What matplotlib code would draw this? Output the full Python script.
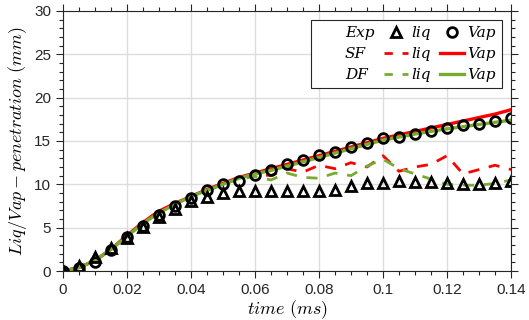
import numpy as np
import matplotlib
matplotlib.use('Agg')
import matplotlib.pyplot as plt
from matplotlib.lines import Line2D
from matplotlib.ticker import MultipleLocator

plt.rcParams['mathtext.fontset'] = 'cm'
plt.rcParams['font.family'] = 'Liberation Sans'

# time (ms)
t = [0.000, 0.005, 0.010, 0.015, 0.020, 0.025, 0.030, 0.035, 0.040, 0.045,
     0.050, 0.055, 0.060, 0.065, 0.070, 0.075, 0.080, 0.085, 0.090, 0.095,
     0.100, 0.105, 0.110, 0.115, 0.120, 0.125, 0.130, 0.135, 0.140]

# experiment
exp_liq = [0.0, 0.6, 1.6, 2.7, 3.85, 5.1, 6.2, 7.2, 8.1, 8.5,
           9.0, 9.2, 9.2, 9.2, 9.2, 9.2, 9.25, 9.35, 9.8, 10.1,
           10.2, 10.4, 10.3, 10.3, 10.1, 10.0, 10.0, 10.2, 10.4]
exp_vap = [0.0, 0.3, 1.0, 2.4, 3.9, 5.2, 6.5, 7.5, 8.4, 9.3,
           10.0, 10.4, 11.1, 11.6, 12.3, 12.8, 13.4, 13.7, 14.3, 14.8,
           15.3, 15.5, 15.85, 16.2, 16.5, 16.8, 17.0, 17.3, 17.7]

# SF simulation
sf_liq = [0.0, 0.4, 1.2, 2.5, 4.1, 5.6, 6.9, 7.8, 8.6, 9.4,
          10.1, 10.7, 11.2, 11.0, 11.8, 11.4, 12.2, 11.8, 12.5, 12.0,
          13.3, 11.5, 12.0, 12.3, 13.3, 11.2, 11.7, 12.2, 11.7]
sf_vap = [0.0, 0.4, 1.2, 2.5, 4.1, 5.6, 6.9, 7.8, 8.6, 9.4,
          10.1, 10.8, 11.3, 11.8, 12.3, 12.8, 13.3, 13.8, 14.3, 14.8,
          15.3, 15.7, 16.1, 16.5, 16.9, 17.3, 17.7, 18.1, 18.6]

# DF simulation
df_liq = [0.0, 0.4, 1.2, 2.5, 4.0, 5.5, 6.7, 7.7, 8.6, 9.3,
          10.0, 10.6, 10.9, 10.5, 11.3, 10.8, 10.7, 11.3, 11.0, 12.1,
          12.9, 11.8, 11.2, 10.6, 10.0, 9.9, 9.9, 10.1, 10.5]
df_vap = [0.0, 0.4, 1.2, 2.5, 4.0, 5.5, 6.7, 7.7, 8.6, 9.3,
          10.0, 10.7, 11.2, 11.6, 12.1, 12.6, 13.1, 13.6, 14.1, 14.6,
          15.1, 15.45, 15.8, 16.1, 16.4, 16.65, 16.9, 17.15, 17.4]

red = '#FF0000'
green = '#77AC30'

fig = plt.figure(figsize=(5.29, 3.2), dpi=100)
ax = fig.add_axes([0.119, 0.153, 0.847, 0.813])

ax.plot(t, sf_liq, '--', color=red, lw=2, dashes=(4, 3.5))
ax.plot(t, df_liq, '--', color=green, lw=2, dashes=(4, 3.5))
ax.plot(t, sf_vap, '-', color=red, lw=2.4)
ax.plot(t, df_vap, '-', color=green, lw=2.4)
ax.plot(t, exp_liq, '^', ms=7.5, mfc='none', mec='black', mew=2, ls='none')
ax.plot(t, exp_vap, 'o', ms=7, mfc='none', mec='black', mew=2, ls='none')

ax.set_xlim(0, 0.14)
ax.set_ylim(0, 30)
ax.set_xticks([0, 0.02, 0.04, 0.06, 0.08, 0.1, 0.12, 0.14])
ax.set_xticklabels(['0', '0.02', '0.04', '0.06', '0.08', '0.1', '0.12', '0.14'])
ax.set_yticks([0, 5, 10, 15, 20, 25, 30])
ax.xaxis.set_minor_locator(MultipleLocator(0.005))
ax.yaxis.set_minor_locator(MultipleLocator(1))
ax.tick_params(which='both', direction='out', top=True, right=True,
               labelsize=11, colors='#262626', labelcolor='#262626')
ax.tick_params(which='major', length=5, width=0.8)
ax.tick_params(which='minor', length=3, width=0.8)
ax.grid(True, which='major', color='#dddddd', lw=1)
ax.set_axisbelow(True)
for s in ax.spines.values():
    s.set_linewidth(0.8)
    s.set_color('#262626')

ax.set_xlabel(r'$time\ (ms)$', fontsize=13, labelpad=1)
ax.set_ylabel(r'$Liq/Vap-penetration\ (mm)$', fontsize=13, labelpad=4)

# legend laid out as a 3x3 table (row names, liq, Vap)
blank = Line2D([], [], ls='none')
handles = [blank, blank, blank,
           Line2D([], [], ls='none', marker='^', ms=7.5, mfc='none', mec='black', mew=2),
           Line2D([], [], ls='--', color=red, lw=2, dashes=(3, 3.5)),
           Line2D([], [], ls='--', color=green, lw=2, dashes=(3, 3.5)),
           Line2D([], [], ls='none', marker='o', ms=7, mfc='none', mec='black', mew=2),
           Line2D([], [], ls='-', color=red, lw=2.4),
           Line2D([], [], ls='-', color=green, lw=2.4)]
labels = ['Exp', 'SF', 'DF',
          'liq', 'liq', 'liq',
          'Vap', 'Vap', 'Vap']
leg = ax.legend(handles, labels, ncol=3, loc='upper right',
                prop={'family': 'DejaVu Serif', 'style': 'italic', 'size': 11},
                handlelength=1.6, handletextpad=0.2, columnspacing=0.6,
                labelspacing=0.45, borderpad=0.4, fancybox=False,
                framealpha=1, edgecolor='#262626', borderaxespad=0.6)
leg.get_frame().set_linewidth(0.8)

fig.savefig('out.png', dpi=100)
